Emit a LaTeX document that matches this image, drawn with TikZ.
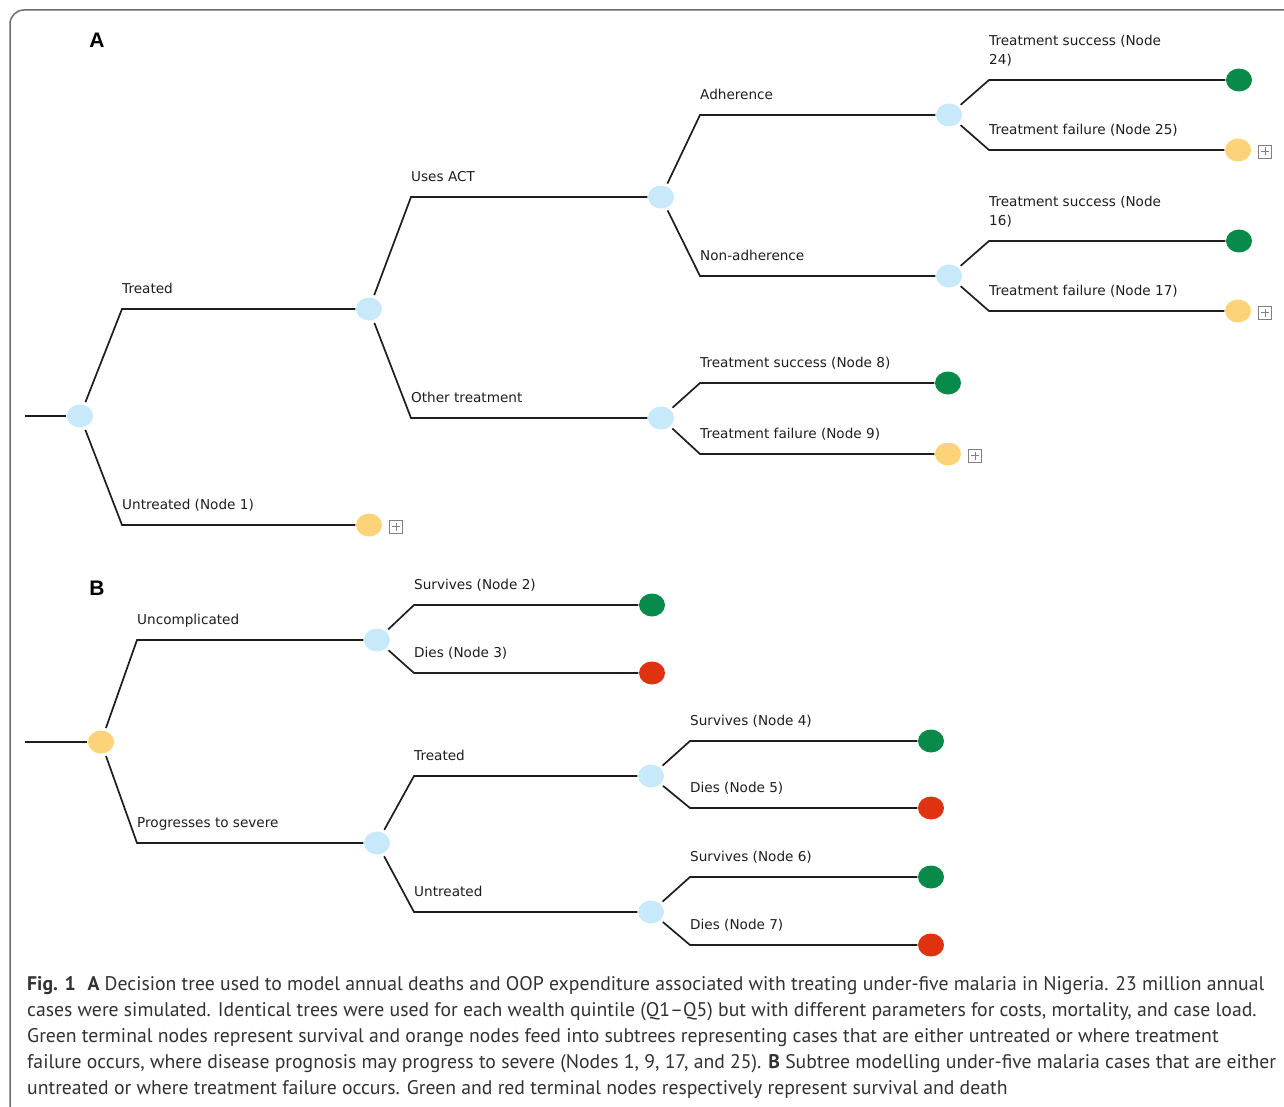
\documentclass[tikz,border=0pt]{standalone}
\usepackage{fontspec}
\setmainfont{DejaVu Sans}
\newfontfamily\capfont{PT Sans}
\newfontfamily\helv{Liberation Sans}
\usetikzlibrary{calc,shapes.geometric}
\definecolor{nblue}{RGB}{200,233,249}
\definecolor{ngreen}{RGB}{8,138,74}
\definecolor{norange}{RGB}{253,211,122}
\definecolor{nred}{RGB}{223,50,16}
\definecolor{edgec}{RGB}{30,30,30}
\definecolor{framec}{RGB}{110,110,110}
\definecolor{capc}{RGB}{50,50,50}
\tikzset{
  dot/.style={ellipse,minimum width=26pt,minimum height=23pt,inner sep=0pt,draw=none},
  chance/.style={dot,fill=nblue},
  win/.style={dot,fill=ngreen},
  feed/.style={dot,fill=norange},
  death/.style={dot,fill=nred},
  edge/.style={draw=edgec,line width=1.7pt,shorten <=3pt,shorten >=0.5pt,line join=miter},
  lab/.style={anchor=south west,inner sep=0pt,text depth=0pt,align=left,text=edgec,
    font=\fontsize{13.6}{19}\selectfont},
  plusbox/.style={draw=gray,line width=0.9pt,minimum size=13pt,inner sep=0pt},
  capline/.style={anchor=base west,inner sep=0pt,text=capc,font=\capfont\fontsize{19.7}{26}\selectfont},
  panel/.style={inner sep=0pt,font=\helv\bfseries\fontsize{21}{24}\selectfont}
}
\newcommand\br[4]{%
  \draw[edge] (#1) -- ($(#1.center |- #2.center)+(#3,0)$) coordinate (k#2) -- (#2);
  \node[lab] (l#2) at ([yshift=15pt]k#2) {#4};}
\newcommand\plus[1]{%
  \node[plusbox] (p#1) at ([xshift=27pt,yshift=-1.5pt]#1.center) {};
  \draw[gray,line width=0.9pt] ([xshift=-4pt]p#1.center) -- ([xshift=4pt]p#1.center)
    ([yshift=-4pt]p#1.center) -- ([yshift=4pt]p#1.center);}
\begin{document}
\begin{tikzpicture}[x=1pt,y=-1pt]
\useasboundingbox[fill=white] (0,0) rectangle (1284,1107);
\draw[framec,line width=1.5pt,rounded corners=14pt] (10,1107) -- (10,10) -- (1284,10);
% panel labels
\node[panel] (pA) at (97,40) {A};
\node[panel] (pB) at (97,588) {B};
% ---------- Panel A ----------
\coordinate (sA) at (25,416);
\node[chance] (rA) at (80,416) {};
\node[chance] (nTr) at (369,309) {};
\node[feed] (nU1) at (369,525) {};
\node[chance] (nACT) at (661,197) {};
\node[chance] (nOth) at (661,418) {};
\node[chance] (nAd) at (949,115) {};
\node[chance] (nNa) at (949,276) {};
\node[win] (g24) at (1239,80) {};
\node[feed] (o25) at (1238,150) {};
\node[win] (g16) at (1239,241) {};
\node[feed] (o17) at (1238,311) {};
\node[win] (g8) at (948,383) {};
\node[feed] (o9) at (948,454) {};
\draw[edge,shorten <=0pt] (sA) -- (rA);
\br{rA}{nTr}{42}{Treated}
\br{rA}{nU1}{42}{Untreated (Node 1)}
\br{nTr}{nACT}{42}{Uses ACT}
\br{nTr}{nOth}{42}{Other treatment}
\br{nACT}{nAd}{39}{Adherence}
\br{nACT}{nNa}{39}{Non-adherence}
\br{nAd}{g24}{40}{Treatment success (Node\\24)}
\br{nAd}{o25}{40}{Treatment failure (Node 25)}
\br{nNa}{g16}{40}{Treatment success (Node\\16)}
\br{nNa}{o17}{40}{Treatment failure (Node 17)}
\br{nOth}{g8}{39}{Treatment success (Node 8)}
\br{nOth}{o9}{39}{Treatment failure (Node 9)}
\plus{nU1}
\plus{o25}
\plus{o17}
\plus{o9}
% ---------- Panel B ----------
\coordinate (sB) at (25,742);
\node[feed] (rB) at (101,742) {};
\node[chance] (nUc) at (377,640) {};
\node[chance] (nPs) at (377,843) {};
\node[win] (g2) at (652,605) {};
\node[death] (r3) at (652,673) {};
\node[chance] (nTb) at (651,776) {};
\node[chance] (nUb) at (651,912) {};
\node[win] (g4) at (931,741) {};
\node[death] (r5) at (931,808) {};
\node[win] (g6) at (931,877) {};
\node[death] (r7) at (931,945) {};
\draw[edge,shorten <=0pt] (sB) -- (rB);
\br{rB}{nUc}{36}{Uncomplicated}
\br{rB}{nPs}{36}{Progresses to severe}
\br{nUc}{g2}{37}{Survives (Node 2)}
\br{nUc}{r3}{37}{Dies (Node 3)}
\br{nPs}{nTb}{37}{Treated}
\br{nPs}{nUb}{37}{Untreated}
\br{nTb}{g4}{39}{Survives (Node 4)}
\br{nTb}{r5}{39}{Dies (Node 5)}
\br{nUb}{g6}{39}{Survives (Node 6)}
\br{nUb}{r7}{39}{Dies (Node 7)}
% ---------- Caption ----------
\node[capline] (c1) at (27,990) {\textbf{Fig. 1}\hspace{0.6em}\textbf{A} Decision tree used to model annual deaths and OOP expenditure associated with treating under-five malaria in Nigeria. 23 million annual};
\node[capline] (c2) at (27,1016) {cases were simulated. Identical trees were used for each wealth quintile (Q1–Q5) but with different parameters for costs, mortality, and case load.};
\node[capline] (c3) at (27,1042) {Green terminal nodes represent survival and orange nodes feed into subtrees representing cases that are either untreated or where treatment};
\node[capline] (c4) at (27,1068) {failure occurs, where disease prognosis may progress to severe (Nodes 1, 9, 17, and 25). \textbf{B} Subtree modelling under-five malaria cases that are either};
\node[capline] (c5) at (27,1094) {untreated or where treatment failure occurs. Green and red terminal nodes respectively represent survival and death};
\end{tikzpicture}
\end{document}
